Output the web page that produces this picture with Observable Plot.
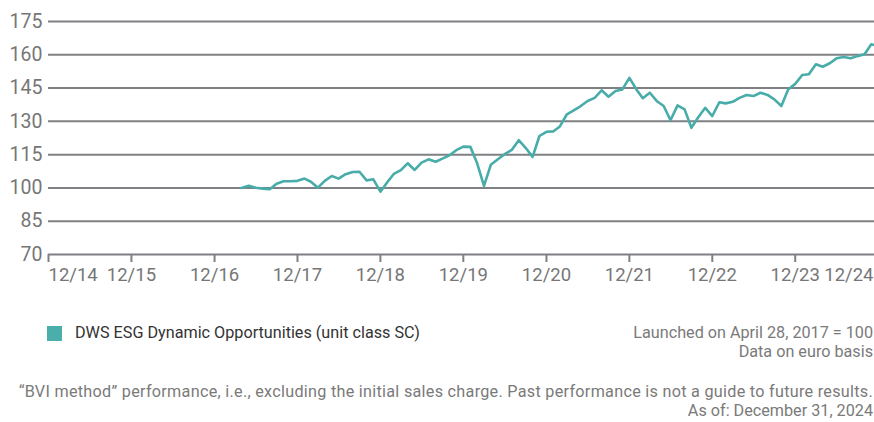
<!DOCTYPE html>
<html>
<head>
<meta charset="utf-8">
<script src="https://cdn.jsdelivr.net/npm/d3@7"></script>
<script src="https://cdn.jsdelivr.net/npm/@observablehq/plot@0.6"></script>
<style>
  html, body { margin: 0; padding: 0; background: #fff; }
  #wrap { position: relative; width: 874px; height: 422px; font-family: Roboto, "Noto Sans", sans-serif; }
  #wrap svg { position: absolute; left: 0; top: 0; }
  .lg-sq { position: absolute; left: 47px; top: 326px; width: 15px; height: 15px; background: #4aaeab; }
  .lg-tx { position: absolute; left: 75px; top: 324px; font-size: 16.2px; line-height: 18px; color: #333; white-space: nowrap; }
  .note { position: absolute; right: 1px; font-size: 16.2px; line-height: 18.5px; color: #7a7a7a; text-align: right; white-space: nowrap; }
  .wide { letter-spacing: 0.28px; }
</style>
</head>
<body>
<div id="wrap"></div>
<script>
// ---- data ----
const startDate = "2017-04-28";
const values = [
  // 2017 (Apr 28 launch .. Dec)
  100.0, 101.0, 100.1, 99.7, 99.4, 101.9, 103.0, 103.0, 103.2,
  // 2018
  104.2, 102.8, 100.1, 103.2, 105.4, 104.2, 106.2, 107.2, 107.3, 103.4, 103.9, 98.3,
  // 2019
  102.7, 106.3, 108.0, 111.1, 108.1, 111.4, 112.9, 111.8, 113.2, 114.7, 117.0, 118.6,
  // 2020
  118.5, 111.4, 100.9, 110.4, 112.9, 115.2, 117.1, 121.5, 118.1, 114.0, 123.4, 125.3,
  // 2021
  125.5, 127.7, 133.2, 135.0, 136.9, 139.2, 140.6, 144.0, 141.1, 143.7, 144.4, 149.6,
  // 2022
  144.4, 140.4, 142.9, 139.2, 136.9, 130.5, 137.2, 135.4, 127.1, 132.0, 136.1, 132.4,
  // 2023
  138.6, 138.1, 138.8, 140.6, 141.9, 141.4, 142.9, 141.9, 139.9, 136.9, 144.4, 146.9,
  // 2024
  150.9, 151.2, 155.7, 154.6, 156.2, 158.4, 159.0, 158.4, 159.4, 160.2, 164.7, 163.9
];
const yTicks = [70, 85, 100, 115, 130, 145, 160, 175];
const xTickLabels = ["12/14", "12/15", "12/16", "12/17", "12/18", "12/19", "12/20", "12/21", "12/22", "12/23", "12/24"];
const xDomain = ["2014-12-31", "2024-12-14"];
const seriesName = "DWS ESG Dynamic Opportunities (unit class SC)";

// ---- build table ----
const dates = values.map((v, i) => {
  if (i === 0) return new Date(startDate);
  return new Date(Date.UTC(2017, 4 + i, 0)); // month-ends from May 2017
});
const data = values.map((v, i) => ({ date: dates[i], value: v }));

const tickDates = xTickLabels.slice(0, -1).map(s => new Date(Date.UTC(2000 + +s.slice(3), 11, 31)));
const labelRows = xTickLabels.map((s, i) => ({
  label: s,
  date: i < xTickLabels.length - 1 ? tickDates[i] : new Date(xDomain[1])
}));
const nL = labelRows.length;

const gridColor = "#7f8083";
const textColor = "#767676";
const labelOpts = { x: "date", text: "label", frameAnchor: "bottom", lineAnchor: "top", dy: 13, fill: textColor, fontSize: 18.5 };

const chart = Plot.plot({
  width: 874,
  height: 290,
  marginLeft: 48,
  marginRight: 0,
  marginTop: 21,
  marginBottom: 36,
  style: { fontFamily: "Roboto, sans-serif", fontSize: "18.5px", color: textColor, background: "#fff" },
  x: { type: "utc", domain: xDomain.map(d => new Date(d)) },
  y: { domain: [70, 175] },
  marks: [
    Plot.ruleY(yTicks, { stroke: gridColor, strokeWidth: 2 }),
    Plot.axisY({ ticks: yTicks, tickSize: 0, tickPadding: 6, label: null, fill: textColor, fontSize: 19.5 }),
    Plot.axisX({ ticks: tickDates, tickSize: 8, tickFormat: () => "", label: null, stroke: gridColor, strokeWidth: 2 }),
    Plot.text(labelRows.slice(0, 1), { ...labelOpts, textAnchor: "start" }),
    Plot.text(labelRows.slice(1, nL - 1), { ...labelOpts, textAnchor: "middle" }),
    Plot.text(labelRows.slice(nL - 1), { ...labelOpts, textAnchor: "end", dx: -1 }),
    Plot.line(data, { x: "date", y: "value", stroke: "#48aca9", strokeWidth: 2.6, clip: true, strokeLinejoin: "round" })
  ]
});

const wrap = document.getElementById("wrap");
wrap.appendChild(chart);

function add(cls, html, style) {
  const el = document.createElement("div");
  el.className = cls;
  el.innerHTML = html;
  if (style) el.setAttribute("style", style);
  wrap.appendChild(el);
}
add("lg-sq", "");
add("lg-tx", seriesName);
add("note", "Launched on April 28, 2017 = 100<br>Data on euro basis", "top: 324px;");
add("note", "<span class=\"wide\">“BVI method” performance, i.e., excluding the initial sales charge. Past performance is not a guide to future results.</span><br>As of: December 31, 2024", "top: 383px;");
</script>
</body>
</html>
